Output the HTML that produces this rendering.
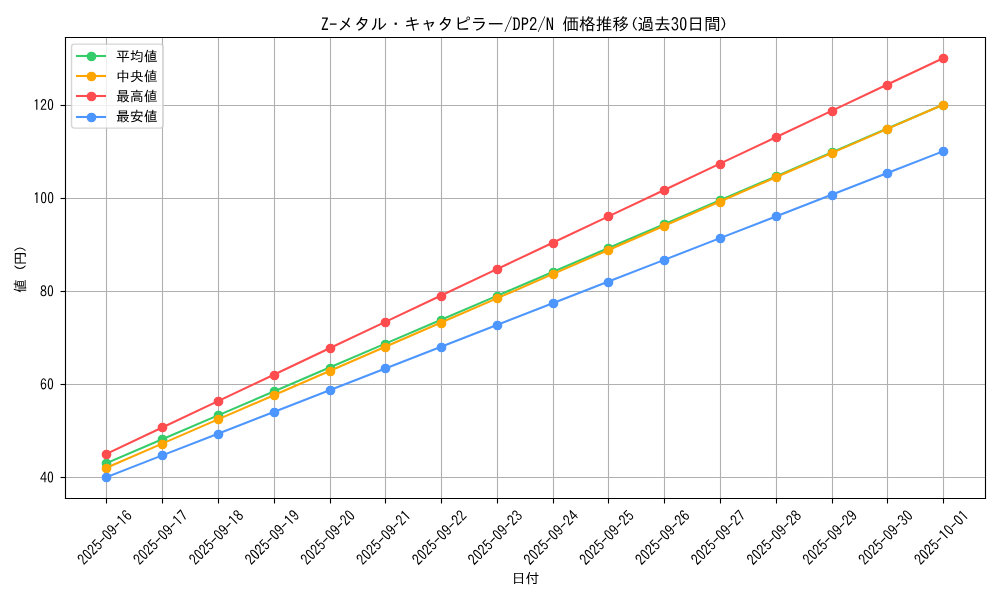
<!DOCTYPE html>
<html><head><meta charset="utf-8"><title>chart</title>
<style>html,body{margin:0;padding:0;background:#fff;width:1000px;height:600px;overflow:hidden;font-family:"Liberation Sans",sans-serif}svg{display:block}</style>
</head><body>
<svg width="1000" height="600" viewBox="0 0 720 432">
<defs>
<style type="text/css">*{stroke-linejoin: round; stroke-linecap: butt}</style>
</defs>
<g id="figure_1">
<g id="patch_1">
<path d="M 0 432
L 720 432
L 720 0
L 0 0
z
" style="fill: #ffffff"/>
</g>
<g id="axes_1">
<g id="patch_2">
<path d="M 46.512 358.6032
L 709.2 358.6032
L 709.2 26.7696
L 46.512 26.7696
z
" style="fill: #ffffff"/>
</g>
<g id="matplotlib.axis_1">
<g id="xtick_1">
<g id="line2d_1">
<path d="M 76.6800 358.9200 L 76.6800 27.0000" clip-path="url(#p1adb4844d3)" style="fill: none; stroke: #b0b0b0; stroke-width: 0.8; stroke-linecap: square"/>
</g>
<g id="line2d_2">
<defs>
<path id="m1504cfccaf" d="M 0 0 L 0 3.6" style="stroke: #000000; stroke-width: 0.8"/>
</defs>
<g>
<use href="#m1504cfccaf" x="76.6800" y="358.9200" style="stroke: #000000; stroke-width: 0.8"/>
</g>
</g>
<g id="text_1" transform="translate(-1.3680 0.6480)">
<g transform="translate(61.551594 406.45983) rotate(-45) scale(0.1 -0.1)">
<defs>
<path id="IPAGothic-32" d="M 2900 325
L 250 325
Q 441 1553 1528 2453
Q 1963 2806 2116 3034
Q 2316 3319 2316 3706
Q 2316 4022 2175 4219
Q 1994 4494 1631 4494
Q 894 4494 825 3406
L 322 3406
Q 359 4056 628 4428
Q 981 4928 1644 4928
Q 2106 4928 2425 4659
Q 2828 4313 2828 3713
Q 2828 2875 1881 2156
Q 1072 1541 909 800
L 2900 800
L 2900 325
z
" transform="matrix(0.015625 0 0 0.016911 0 -5.4961)"/>
<path id="IPAGothic-30" d="M 1600 4934 Q 2844 4934 2844 2566 Q 2844 197 1600 197 Q 359 197 359 2566 Q 359 4934 1600 4934 z M 1600 4494 Q 884 4494 884 2566 Q 884 638 1600 638 Q 2319 638 2319 2566 Q 2319 4494 1600 4494 z" transform="matrix(0.015625 0 0 0.016911 0 -5.4961)"/>
<path id="IPAGothic-35" d="M 566 4806
L 2691 4806
L 2691 4359
L 1013 4359
L 944 2888
Q 1259 3250 1738 3250
Q 2250 3250 2588 2816
Q 2909 2397 2909 1772
Q 2909 1238 2697 844
Q 2341 197 1591 197
Q 538 197 328 1375
L 841 1375
Q 947 644 1588 644
Q 2000 644 2228 997
Q 2422 1294 2422 1766
Q 2422 2184 2259 2456
Q 2059 2822 1653 2822
Q 1156 2822 859 2225
L 456 2309
L 566 4806
z
" transform="matrix(0.015625 0 0 0.016911 0 -5.4961)"/>
<path id="IPAGothic-2d" d="M 313 2663
L 2884 2663
L 2884 2203
L 313 2203
L 313 2663
z
" transform="matrix(0.015625 0 0 0.016911 0 -5.4961)"/>
<path id="IPAGothic-39" d="M 909 1363
Q 988 666 1569 666
Q 2431 666 2422 2500
Q 2063 1972 1519 1972
Q 859 1972 531 2588
Q 347 2947 347 3419
Q 347 4019 672 4459
Q 1022 4934 1569 4934
Q 2888 4934 2888 2706
Q 2888 197 1575 197
Q 975 197 628 716
Q 450 984 384 1363
L 909 1363
z
M 1591 4494
Q 834 4494 834 3431
Q 834 3038 969 2778
Q 1169 2394 1591 2394
Q 1859 2394 2069 2631
Q 2338 2938 2338 3431
Q 2338 3925 2125 4213
Q 1922 4494 1591 4494
z
" transform="matrix(0.015625 0 0 0.016911 0 -5.4961)"/>
<path id="IPAGothic-31" d="M 1428 325
L 1428 4153
Q 1188 3991 756 3809
L 756 4325
Q 1256 4509 1563 4806
L 1953 4806
L 1953 325
L 1428 325
z
" transform="matrix(0.015625 0 0 0.016911 0 -5.4961)"/>
<path id="IPAGothic-36" d="M 2322 3809
Q 2225 4488 1713 4488
Q 1269 4488 1028 3950
Q 803 3447 794 2588
Q 1159 3119 1725 3119
Q 2194 3119 2519 2772
Q 2903 2369 2903 1709
Q 2903 1159 2641 750
Q 2284 200 1638 200
Q 1050 200 697 738
Q 319 1328 319 2375
Q 319 3488 650 4172
Q 1028 4934 1706 4934
Q 2634 4934 2847 3809
L 2322 3809
z
M 1644 2703
Q 1272 2703 1047 2363
Q 875 2094 875 1691
Q 875 1328 997 1075
Q 1209 641 1650 641
Q 2003 641 2219 959
Q 2409 1241 2409 1697
Q 2409 2113 2244 2375
Q 2041 2703 1644 2703
z
" transform="matrix(0.015625 0 0 0.016911 0 -5.4961)"/>
</defs>
<use href="#IPAGothic-32"/>
<use href="#IPAGothic-30" transform="translate(50 0)"/>
<use href="#IPAGothic-32" transform="translate(100 0)"/>
<use href="#IPAGothic-35" transform="translate(150 0)"/>
<use href="#IPAGothic-2d" transform="translate(200 0)"/>
<use href="#IPAGothic-30" transform="translate(250 0)"/>
<use href="#IPAGothic-39" transform="translate(300 0)"/>
<use href="#IPAGothic-2d" transform="translate(350 0)"/>
<use href="#IPAGothic-31" transform="translate(400 0)"/>
<use href="#IPAGothic-36" transform="translate(450 0)"/>
</g>
</g>
</g>
<g id="xtick_2">
<g id="line2d_3">
<path d="M 117.0000 358.9200 L 117.0000 27.0000" clip-path="url(#p1adb4844d3)" style="fill: none; stroke: #b0b0b0; stroke-width: 0.8; stroke-linecap: square"/>
</g>
<g id="line2d_4">
<g>
<use href="#m1504cfccaf" x="117.0000" y="358.9200" style="stroke: #000000; stroke-width: 0.8"/>
</g>
</g>
<g id="text_2" transform="translate(-1.3680 0.6480)">
<g transform="translate(101.714503 406.45983) rotate(-45) scale(0.1 -0.1)">
<defs>
<path id="IPAGothic-37" d="M 319 4806
L 2878 4806
L 2878 4441
Q 1978 2213 1528 325
L 947 325
Q 1434 2050 2328 4319
L 319 4319
L 319 4806
z
" transform="matrix(0.015625 0 0 0.016911 0 -5.4961)"/>
</defs>
<use href="#IPAGothic-32"/>
<use href="#IPAGothic-30" transform="translate(50 0)"/>
<use href="#IPAGothic-32" transform="translate(100 0)"/>
<use href="#IPAGothic-35" transform="translate(150 0)"/>
<use href="#IPAGothic-2d" transform="translate(200 0)"/>
<use href="#IPAGothic-30" transform="translate(250 0)"/>
<use href="#IPAGothic-39" transform="translate(300 0)"/>
<use href="#IPAGothic-2d" transform="translate(350 0)"/>
<use href="#IPAGothic-31" transform="translate(400 0)"/>
<use href="#IPAGothic-37" transform="translate(450 0)"/>
</g>
</g>
</g>
<g id="xtick_3">
<g id="line2d_5">
<path d="M 157.3200 358.9200 L 157.3200 27.0000" clip-path="url(#p1adb4844d3)" style="fill: none; stroke: #b0b0b0; stroke-width: 0.8; stroke-linecap: square"/>
</g>
<g id="line2d_6">
<g>
<use href="#m1504cfccaf" x="157.3200" y="358.9200" style="stroke: #000000; stroke-width: 0.8"/>
</g>
</g>
<g id="text_3" transform="translate(-1.3680 0.6480)">
<g transform="translate(141.877412 406.45983) rotate(-45) scale(0.1 -0.1)">
<defs>
<path id="IPAGothic-38" d="M 1050 2741
Q 403 3056 403 3750
Q 403 4084 563 4359
Q 900 4934 1600 4934
Q 1950 4934 2253 4750
Q 2797 4416 2797 3750
Q 2797 3056 2150 2741
Q 2978 2422 2978 1541
Q 2978 1038 2697 678
Q 2322 197 1600 197
Q 988 197 616 550
Q 225 922 225 1541
Q 225 2422 1050 2741
z
M 1600 4525
Q 1278 4525 1075 4294
Q 891 4078 891 3756
Q 891 3544 969 3372
Q 1159 2956 1606 2956
Q 1863 2956 2041 3116
Q 2309 3347 2309 3756
Q 2309 4156 2041 4378
Q 1856 4525 1600 4525
z
M 1594 2497
Q 1178 2497 931 2191
Q 725 1925 725 1541
Q 725 1172 925 925
Q 1172 619 1600 619
Q 2031 619 2281 925
Q 2478 1172 2478 1541
Q 2478 2022 2184 2278
Q 1947 2497 1594 2497
z
" transform="matrix(0.015625 0 0 0.016911 0 -5.4961)"/>
</defs>
<use href="#IPAGothic-32"/>
<use href="#IPAGothic-30" transform="translate(50 0)"/>
<use href="#IPAGothic-32" transform="translate(100 0)"/>
<use href="#IPAGothic-35" transform="translate(150 0)"/>
<use href="#IPAGothic-2d" transform="translate(200 0)"/>
<use href="#IPAGothic-30" transform="translate(250 0)"/>
<use href="#IPAGothic-39" transform="translate(300 0)"/>
<use href="#IPAGothic-2d" transform="translate(350 0)"/>
<use href="#IPAGothic-31" transform="translate(400 0)"/>
<use href="#IPAGothic-38" transform="translate(450 0)"/>
</g>
</g>
</g>
<g id="xtick_4">
<g id="line2d_7">
<path d="M 197.6400 358.9200 L 197.6400 27.0000" clip-path="url(#p1adb4844d3)" style="fill: none; stroke: #b0b0b0; stroke-width: 0.8; stroke-linecap: square"/>
</g>
<g id="line2d_8">
<g>
<use href="#m1504cfccaf" x="197.6400" y="358.9200" style="stroke: #000000; stroke-width: 0.8"/>
</g>
</g>
<g id="text_4" transform="translate(-1.3680 0.6480)">
<g transform="translate(182.072141 406.39619) rotate(-45) scale(0.1 -0.1)">
<use href="#IPAGothic-32"/>
<use href="#IPAGothic-30" transform="translate(50 0)"/>
<use href="#IPAGothic-32" transform="translate(100 0)"/>
<use href="#IPAGothic-35" transform="translate(150 0)"/>
<use href="#IPAGothic-2d" transform="translate(200 0)"/>
<use href="#IPAGothic-30" transform="translate(250 0)"/>
<use href="#IPAGothic-39" transform="translate(300 0)"/>
<use href="#IPAGothic-2d" transform="translate(350 0)"/>
<use href="#IPAGothic-31" transform="translate(400 0)"/>
<use href="#IPAGothic-39" transform="translate(450 0)"/>
</g>
</g>
</g>
<g id="xtick_5">
<g id="line2d_9">
<path d="M 237.9600 358.9200 L 237.9600 27.0000" clip-path="url(#p1adb4844d3)" style="fill: none; stroke: #b0b0b0; stroke-width: 0.8; stroke-linecap: square"/>
</g>
<g id="line2d_10">
<g>
<use href="#m1504cfccaf" x="237.9600" y="358.9200" style="stroke: #000000; stroke-width: 0.8"/>
</g>
</g>
<g id="text_5" transform="translate(-1.3680 0.6480)">
<g transform="translate(222.203231 406.45983) rotate(-45) scale(0.1 -0.1)">
<use href="#IPAGothic-32"/>
<use href="#IPAGothic-30" transform="translate(50 0)"/>
<use href="#IPAGothic-32" transform="translate(100 0)"/>
<use href="#IPAGothic-35" transform="translate(150 0)"/>
<use href="#IPAGothic-2d" transform="translate(200 0)"/>
<use href="#IPAGothic-30" transform="translate(250 0)"/>
<use href="#IPAGothic-39" transform="translate(300 0)"/>
<use href="#IPAGothic-2d" transform="translate(350 0)"/>
<use href="#IPAGothic-32" transform="translate(400 0)"/>
<use href="#IPAGothic-30" transform="translate(450 0)"/>
</g>
</g>
</g>
<g id="xtick_6">
<g id="line2d_11">
<path d="M 277.5600 358.9200 L 277.5600 27.0000" clip-path="url(#p1adb4844d3)" style="fill: none; stroke: #b0b0b0; stroke-width: 0.8; stroke-linecap: square"/>
</g>
<g id="line2d_12">
<g>
<use href="#m1504cfccaf" x="277.5600" y="358.9200" style="stroke: #000000; stroke-width: 0.8"/>
</g>
</g>
<g id="text_6" transform="translate(-1.3680 0.6480)">
<g transform="translate(262.36614 406.45983) rotate(-45) scale(0.1 -0.1)">
<use href="#IPAGothic-32"/>
<use href="#IPAGothic-30" transform="translate(50 0)"/>
<use href="#IPAGothic-32" transform="translate(100 0)"/>
<use href="#IPAGothic-35" transform="translate(150 0)"/>
<use href="#IPAGothic-2d" transform="translate(200 0)"/>
<use href="#IPAGothic-30" transform="translate(250 0)"/>
<use href="#IPAGothic-39" transform="translate(300 0)"/>
<use href="#IPAGothic-2d" transform="translate(350 0)"/>
<use href="#IPAGothic-32" transform="translate(400 0)"/>
<use href="#IPAGothic-31" transform="translate(450 0)"/>
</g>
</g>
</g>
<g id="xtick_7">
<g id="line2d_13">
<path d="M 317.8800 358.9200 L 317.8800 27.0000" clip-path="url(#p1adb4844d3)" style="fill: none; stroke: #b0b0b0; stroke-width: 0.8; stroke-linecap: square"/>
</g>
<g id="line2d_14">
<g>
<use href="#m1504cfccaf" x="317.8800" y="358.9200" style="stroke: #000000; stroke-width: 0.8"/>
</g>
</g>
<g id="text_7" transform="translate(-1.3680 0.6480)">
<g transform="translate(302.497229 406.523469) rotate(-45) scale(0.1 -0.1)">
<use href="#IPAGothic-32"/>
<use href="#IPAGothic-30" transform="translate(50 0)"/>
<use href="#IPAGothic-32" transform="translate(100 0)"/>
<use href="#IPAGothic-35" transform="translate(150 0)"/>
<use href="#IPAGothic-2d" transform="translate(200 0)"/>
<use href="#IPAGothic-30" transform="translate(250 0)"/>
<use href="#IPAGothic-39" transform="translate(300 0)"/>
<use href="#IPAGothic-2d" transform="translate(350 0)"/>
<use href="#IPAGothic-32" transform="translate(400 0)"/>
<use href="#IPAGothic-32" transform="translate(450 0)"/>
</g>
</g>
</g>
<g id="xtick_8">
<g id="line2d_15">
<path d="M 358.2000 358.9200 L 358.2000 27.0000" clip-path="url(#p1adb4844d3)" style="fill: none; stroke: #b0b0b0; stroke-width: 0.8; stroke-linecap: square"/>
</g>
<g id="line2d_16">
<g>
<use href="#m1504cfccaf" x="358.2000" y="358.9200" style="stroke: #000000; stroke-width: 0.8"/>
</g>
</g>
<g id="text_8" transform="translate(-1.3680 0.6480)">
<g transform="translate(342.660138 406.523469) rotate(-45) scale(0.1 -0.1)">
<defs>
<path id="IPAGothic-33" d="M 1113 2931
L 1431 2931
Q 1841 2931 1994 3047
Q 2281 3269 2281 3713
Q 2281 4500 1566 4500
Q 972 4500 838 3828
L 331 3828
Q 400 4250 625 4525
Q 969 4934 1566 4934
Q 2066 4934 2391 4647
Q 2775 4309 2775 3731
Q 2775 2953 2078 2713
Q 2919 2388 2919 1528
Q 2919 978 2606 625
Q 2231 197 1575 197
Q 959 197 594 619
Q 325 928 269 1472
L 794 1472
Q 859 638 1575 638
Q 1906 638 2131 825
Q 2413 1066 2413 1528
Q 2413 2522 1431 2522
L 1113 2522
L 1113 2931
z
" transform="matrix(0.015625 0 0 0.016911 0 -5.4961)"/>
</defs>
<use href="#IPAGothic-32"/>
<use href="#IPAGothic-30" transform="translate(50 0)"/>
<use href="#IPAGothic-32" transform="translate(100 0)"/>
<use href="#IPAGothic-35" transform="translate(150 0)"/>
<use href="#IPAGothic-2d" transform="translate(200 0)"/>
<use href="#IPAGothic-30" transform="translate(250 0)"/>
<use href="#IPAGothic-39" transform="translate(300 0)"/>
<use href="#IPAGothic-2d" transform="translate(350 0)"/>
<use href="#IPAGothic-32" transform="translate(400 0)"/>
<use href="#IPAGothic-33" transform="translate(450 0)"/>
</g>
</g>
</g>
<g id="xtick_9">
<g id="line2d_17">
<path d="M 398.5200 358.9200 L 398.5200 27.0000" clip-path="url(#p1adb4844d3)" style="fill: none; stroke: #b0b0b0; stroke-width: 0.8; stroke-linecap: square"/>
</g>
<g id="line2d_18">
<g>
<use href="#m1504cfccaf" x="398.5200" y="358.9200" style="stroke: #000000; stroke-width: 0.8"/>
</g>
</g>
<g id="text_9" transform="translate(-1.3680 0.6480)">
<g transform="translate(382.823047 406.523469) rotate(-45) scale(0.1 -0.1)">
<defs>
<path id="IPAGothic-34" d="M 1966 4806
L 2509 4806
L 2509 1869
L 3041 1869
L 3041 1434
L 2509 1434
L 2509 325
L 2034 325
L 2034 1434
L 159 1434
L 159 1881
L 1966 4806
z
M 2034 4109
L 641 1869
L 2034 1869
L 2034 4109
z
" transform="matrix(0.015625 0 0 0.016911 0 -5.4961)"/>
</defs>
<use href="#IPAGothic-32"/>
<use href="#IPAGothic-30" transform="translate(50 0)"/>
<use href="#IPAGothic-32" transform="translate(100 0)"/>
<use href="#IPAGothic-35" transform="translate(150 0)"/>
<use href="#IPAGothic-2d" transform="translate(200 0)"/>
<use href="#IPAGothic-30" transform="translate(250 0)"/>
<use href="#IPAGothic-39" transform="translate(300 0)"/>
<use href="#IPAGothic-2d" transform="translate(350 0)"/>
<use href="#IPAGothic-32" transform="translate(400 0)"/>
<use href="#IPAGothic-34" transform="translate(450 0)"/>
</g>
</g>
</g>
<g id="xtick_10">
<g id="line2d_19">
<path d="M 438.1200 358.9200 L 438.1200 27.0000" clip-path="url(#p1adb4844d3)" style="fill: none; stroke: #b0b0b0; stroke-width: 0.8; stroke-linecap: square"/>
</g>
<g id="line2d_20">
<g>
<use href="#m1504cfccaf" x="438.1200" y="358.9200" style="stroke: #000000; stroke-width: 0.8"/>
</g>
</g>
<g id="text_10" transform="translate(-1.3680 0.6480)">
<g transform="translate(422.985956 406.523469) rotate(-45) scale(0.1 -0.1)">
<use href="#IPAGothic-32"/>
<use href="#IPAGothic-30" transform="translate(50 0)"/>
<use href="#IPAGothic-32" transform="translate(100 0)"/>
<use href="#IPAGothic-35" transform="translate(150 0)"/>
<use href="#IPAGothic-2d" transform="translate(200 0)"/>
<use href="#IPAGothic-30" transform="translate(250 0)"/>
<use href="#IPAGothic-39" transform="translate(300 0)"/>
<use href="#IPAGothic-2d" transform="translate(350 0)"/>
<use href="#IPAGothic-32" transform="translate(400 0)"/>
<use href="#IPAGothic-35" transform="translate(450 0)"/>
</g>
</g>
</g>
<g id="xtick_11">
<g id="line2d_21">
<path d="M 478.4400 358.9200 L 478.4400 27.0000" clip-path="url(#p1adb4844d3)" style="fill: none; stroke: #b0b0b0; stroke-width: 0.8; stroke-linecap: square"/>
</g>
<g id="line2d_22">
<g>
<use href="#m1504cfccaf" x="478.4400" y="358.9200" style="stroke: #000000; stroke-width: 0.8"/>
</g>
</g>
<g id="text_11" transform="translate(-1.3680 0.6480)">
<g transform="translate(463.148865 406.523469) rotate(-45) scale(0.1 -0.1)">
<use href="#IPAGothic-32"/>
<use href="#IPAGothic-30" transform="translate(50 0)"/>
<use href="#IPAGothic-32" transform="translate(100 0)"/>
<use href="#IPAGothic-35" transform="translate(150 0)"/>
<use href="#IPAGothic-2d" transform="translate(200 0)"/>
<use href="#IPAGothic-30" transform="translate(250 0)"/>
<use href="#IPAGothic-39" transform="translate(300 0)"/>
<use href="#IPAGothic-2d" transform="translate(350 0)"/>
<use href="#IPAGothic-32" transform="translate(400 0)"/>
<use href="#IPAGothic-36" transform="translate(450 0)"/>
</g>
</g>
</g>
<g id="xtick_12">
<g id="line2d_23">
<path d="M 518.7600 358.9200 L 518.7600 27.0000" clip-path="url(#p1adb4844d3)" style="fill: none; stroke: #b0b0b0; stroke-width: 0.8; stroke-linecap: square"/>
</g>
<g id="line2d_24">
<g>
<use href="#m1504cfccaf" x="518.7600" y="358.9200" style="stroke: #000000; stroke-width: 0.8"/>
</g>
</g>
<g id="text_12" transform="translate(-1.3680 0.6480)">
<g transform="translate(503.311774 406.523469) rotate(-45) scale(0.1 -0.1)">
<use href="#IPAGothic-32"/>
<use href="#IPAGothic-30" transform="translate(50 0)"/>
<use href="#IPAGothic-32" transform="translate(100 0)"/>
<use href="#IPAGothic-35" transform="translate(150 0)"/>
<use href="#IPAGothic-2d" transform="translate(200 0)"/>
<use href="#IPAGothic-30" transform="translate(250 0)"/>
<use href="#IPAGothic-39" transform="translate(300 0)"/>
<use href="#IPAGothic-2d" transform="translate(350 0)"/>
<use href="#IPAGothic-32" transform="translate(400 0)"/>
<use href="#IPAGothic-37" transform="translate(450 0)"/>
</g>
</g>
</g>
<g id="xtick_13">
<g id="line2d_25">
<path d="M 559.0800 358.9200 L 559.0800 27.0000" clip-path="url(#p1adb4844d3)" style="fill: none; stroke: #b0b0b0; stroke-width: 0.8; stroke-linecap: square"/>
</g>
<g id="line2d_26">
<g>
<use href="#m1504cfccaf" x="559.0800" y="358.9200" style="stroke: #000000; stroke-width: 0.8"/>
</g>
</g>
<g id="text_13" transform="translate(-1.3680 0.6480)">
<g transform="translate(543.474683 406.523469) rotate(-45) scale(0.1 -0.1)">
<use href="#IPAGothic-32"/>
<use href="#IPAGothic-30" transform="translate(50 0)"/>
<use href="#IPAGothic-32" transform="translate(100 0)"/>
<use href="#IPAGothic-35" transform="translate(150 0)"/>
<use href="#IPAGothic-2d" transform="translate(200 0)"/>
<use href="#IPAGothic-30" transform="translate(250 0)"/>
<use href="#IPAGothic-39" transform="translate(300 0)"/>
<use href="#IPAGothic-2d" transform="translate(350 0)"/>
<use href="#IPAGothic-32" transform="translate(400 0)"/>
<use href="#IPAGothic-38" transform="translate(450 0)"/>
</g>
</g>
</g>
<g id="xtick_14">
<g id="line2d_27">
<path d="M 599.4000 358.9200 L 599.4000 27.0000" clip-path="url(#p1adb4844d3)" style="fill: none; stroke: #b0b0b0; stroke-width: 0.8; stroke-linecap: square"/>
</g>
<g id="line2d_28">
<g>
<use href="#m1504cfccaf" x="599.4000" y="358.9200" style="stroke: #000000; stroke-width: 0.8"/>
</g>
</g>
<g id="text_14" transform="translate(-1.3680 0.6480)">
<g transform="translate(583.669412 406.45983) rotate(-45) scale(0.1 -0.1)">
<use href="#IPAGothic-32"/>
<use href="#IPAGothic-30" transform="translate(50 0)"/>
<use href="#IPAGothic-32" transform="translate(100 0)"/>
<use href="#IPAGothic-35" transform="translate(150 0)"/>
<use href="#IPAGothic-2d" transform="translate(200 0)"/>
<use href="#IPAGothic-30" transform="translate(250 0)"/>
<use href="#IPAGothic-39" transform="translate(300 0)"/>
<use href="#IPAGothic-2d" transform="translate(350 0)"/>
<use href="#IPAGothic-32" transform="translate(400 0)"/>
<use href="#IPAGothic-39" transform="translate(450 0)"/>
</g>
</g>
</g>
<g id="xtick_15">
<g id="line2d_29">
<path d="M 639.0000 358.9200 L 639.0000 27.0000" clip-path="url(#p1adb4844d3)" style="fill: none; stroke: #b0b0b0; stroke-width: 0.8; stroke-linecap: square"/>
</g>
<g id="line2d_30">
<g>
<use href="#m1504cfccaf" x="639.0000" y="358.9200" style="stroke: #000000; stroke-width: 0.8"/>
</g>
</g>
<g id="text_15" transform="translate(-1.3680 0.6480)">
<g transform="translate(623.832321 406.45983) rotate(-45) scale(0.1 -0.1)">
<use href="#IPAGothic-32"/>
<use href="#IPAGothic-30" transform="translate(50 0)"/>
<use href="#IPAGothic-32" transform="translate(100 0)"/>
<use href="#IPAGothic-35" transform="translate(150 0)"/>
<use href="#IPAGothic-2d" transform="translate(200 0)"/>
<use href="#IPAGothic-30" transform="translate(250 0)"/>
<use href="#IPAGothic-39" transform="translate(300 0)"/>
<use href="#IPAGothic-2d" transform="translate(350 0)"/>
<use href="#IPAGothic-33" transform="translate(400 0)"/>
<use href="#IPAGothic-30" transform="translate(450 0)"/>
</g>
</g>
</g>
<g id="xtick_16">
<g id="line2d_31">
<path d="M 679.3200 358.9200 L 679.3200 27.0000" clip-path="url(#p1adb4844d3)" style="fill: none; stroke: #b0b0b0; stroke-width: 0.8; stroke-linecap: square"/>
</g>
<g id="line2d_32">
<g>
<use href="#m1504cfccaf" x="679.3200" y="358.9200" style="stroke: #000000; stroke-width: 0.8"/>
</g>
</g>
<g id="text_16" transform="translate(-1.3680 0.6480)">
<g transform="translate(664.02705 406.39619) rotate(-45) scale(0.1 -0.1)">
<use href="#IPAGothic-32"/>
<use href="#IPAGothic-30" transform="translate(50 0)"/>
<use href="#IPAGothic-32" transform="translate(100 0)"/>
<use href="#IPAGothic-35" transform="translate(150 0)"/>
<use href="#IPAGothic-2d" transform="translate(200 0)"/>
<use href="#IPAGothic-31" transform="translate(250 0)"/>
<use href="#IPAGothic-30" transform="translate(300 0)"/>
<use href="#IPAGothic-2d" transform="translate(350 0)"/>
<use href="#IPAGothic-30" transform="translate(400 0)"/>
<use href="#IPAGothic-31" transform="translate(450 0)"/>
</g>
</g>
</g>
<g id="text_17" transform="translate(0.5040 1.0080)">
<g transform="translate(367.866 419.008836) scale(0.1 -0.1)">
<defs>
<path id="IPAGothic-65e5" d="M 5231 4800
L 5231 -288
L 4744 -288
L 4744 128
L 1647 128
L 1647 -288
L 1159 -288
L 1159 4800
L 5231 4800
z
M 1647 4372
L 1647 2731
L 4744 2731
L 4744 4372
L 1647 4372
z
M 1647 2297
L 1647 556
L 4744 556
L 4744 2297
L 1647 2297
z
" transform="scale(0.015625)"/>
<path id="IPAGothic-4ed8" d="M 1681 3772
L 1681 -447
L 1213 -447
L 1213 2825
Q 913 2316 578 1863
L 316 2253
Q 1241 3463 1653 5184
L 2128 5069
Q 1928 4378 1719 3859
L 1681 3772
z
M 5084 3816
L 5994 3816
L 5994 3388
L 5109 3388
L 5109 213
Q 5109 -78 5006 -191
Q 4888 -319 4525 -319
Q 4031 -319 3516 -266
L 3431 238
Q 3978 141 4403 141
Q 4634 141 4634 384
L 4634 3388
L 2031 3388
L 2031 3816
L 4609 3816
L 4609 5153
L 5084 5153
L 5084 3816
z
M 3431 1172
Q 3034 1994 2547 2566
L 2931 2822
Q 3428 2231 3853 1472
L 3431 1172
z
" transform="scale(0.015625)"/>
</defs>
<use href="#IPAGothic-65e5"/>
<use href="#IPAGothic-4ed8" transform="translate(100 0)"/>
</g>
</g>
</g>
<g id="matplotlib.axis_2">
<g id="ytick_1">
<g id="line2d_33">
<path d="M 47.1600 343.8000 L 709.5600 343.8000" clip-path="url(#p1adb4844d3)" style="fill: none; stroke: #b0b0b0; stroke-width: 0.8; stroke-linecap: square"/>
</g>
<g id="line2d_34">
<defs>
<path id="m5d545ce8f8" d="M 0 0 L -3.6 0" style="stroke: #000000; stroke-width: 0.8"/>
</defs>
<g>
<use href="#m5d545ce8f8" x="47.1600" y="343.8000" style="stroke: #000000; stroke-width: 0.8"/>
</g>
</g>
<g id="text_18" transform="translate(-0.7200 -0.2880)">
<g transform="translate(29.522 347.479855) scale(0.1 -0.1)">
<use href="#IPAGothic-34"/>
<use href="#IPAGothic-30" transform="translate(50 0)"/>
</g>
</g>
</g>
<g id="ytick_2">
<g id="line2d_35">
<path d="M 47.1600 276.8400 L 709.5600 276.8400" clip-path="url(#p1adb4844d3)" style="fill: none; stroke: #b0b0b0; stroke-width: 0.8; stroke-linecap: square"/>
</g>
<g id="line2d_36">
<g>
<use href="#m5d545ce8f8" x="47.1600" y="276.8400" style="stroke: #000000; stroke-width: 0.8"/>
</g>
</g>
<g id="text_19" transform="translate(-0.7200 -0.2880)">
<g transform="translate(29.522 280.442764) scale(0.1 -0.1)">
<use href="#IPAGothic-36"/>
<use href="#IPAGothic-30" transform="translate(50 0)"/>
</g>
</g>
</g>
<g id="ytick_3">
<g id="line2d_37">
<path d="M 47.1600 209.8800 L 709.5600 209.8800" clip-path="url(#p1adb4844d3)" style="fill: none; stroke: #b0b0b0; stroke-width: 0.8; stroke-linecap: square"/>
</g>
<g id="line2d_38">
<g>
<use href="#m5d545ce8f8" x="47.1600" y="209.8800" style="stroke: #000000; stroke-width: 0.8"/>
</g>
</g>
<g id="text_20" transform="translate(-0.7200 -0.2880)">
<g transform="translate(29.522 213.405673) scale(0.1 -0.1)">
<use href="#IPAGothic-38"/>
<use href="#IPAGothic-30" transform="translate(50 0)"/>
</g>
</g>
</g>
<g id="ytick_4">
<g id="line2d_39">
<path d="M 47.1600 142.9200 L 709.5600 142.9200" clip-path="url(#p1adb4844d3)" style="fill: none; stroke: #b0b0b0; stroke-width: 0.8; stroke-linecap: square"/>
</g>
<g id="line2d_40">
<g>
<use href="#m5d545ce8f8" x="47.1600" y="142.9200" style="stroke: #000000; stroke-width: 0.8"/>
</g>
</g>
<g id="text_21" transform="translate(-0.7200 -0.2880)">
<g transform="translate(24.662 146.368582) scale(0.1 -0.1)">
<use href="#IPAGothic-31"/>
<use href="#IPAGothic-30" transform="translate(50 0)"/>
<use href="#IPAGothic-30" transform="translate(100 0)"/>
</g>
</g>
</g>
<g id="ytick_5">
<g id="line2d_41">
<path d="M 47.1600 75.9600 L 709.5600 75.9600" clip-path="url(#p1adb4844d3)" style="fill: none; stroke: #b0b0b0; stroke-width: 0.8; stroke-linecap: square"/>
</g>
<g id="line2d_42">
<g>
<use href="#m5d545ce8f8" x="47.1600" y="75.9600" style="stroke: #000000; stroke-width: 0.8"/>
</g>
</g>
<g id="text_22" transform="translate(-0.7200 -0.2880)">
<g transform="translate(24.572 79.331491) scale(0.1 -0.1)">
<use href="#IPAGothic-31"/>
<use href="#IPAGothic-32" transform="translate(50 0)"/>
<use href="#IPAGothic-30" transform="translate(100 0)"/>
</g>
</g>
</g>
<g id="text_23" transform="translate(-1.6560 0.7200)">
<g transform="translate(19.852 210.2364) rotate(-90) scale(0.1 -0.1)">
<defs>
<path id="IPAGothic-5024" d="M 4172 3675
L 5453 3675
L 5453 684
L 3019 684
L 3019 3675
L 3747 3675
Q 3788 3884 3825 4153
L 2144 4153
L 2144 4544
L 3881 4544
Q 3922 4841 3966 5325
L 4434 5272
L 4391 4953
Q 4331 4578 4331 4544
L 5863 4544
L 5863 4153
L 4269 4153
Q 4200 3781 4172 3675
z
M 5038 3316
L 3434 3316
L 3434 2803
L 5038 2803
L 5038 3316
z
M 3434 2450
L 3434 1941
L 5038 1941
L 5038 2450
L 3434 2450
z
M 3434 1588
L 3434 1044
L 5038 1044
L 5038 1588
L 3434 1588
z
M 1509 3669
L 1509 -447
L 1069 -447
L 1069 2728
Q 856 2338 531 1875
L 288 2266
Q 1163 3534 1541 5325
L 1975 5225
Q 1791 4378 1509 3669
z
M 2488 244
L 6034 244
L 6034 -153
L 2488 -153
L 2488 -447
L 2059 -447
L 2059 3213
L 2488 3213
L 2488 244
z
" transform="scale(0.015625)"/>
<path id="IPAGothic-20" transform="scale(0.015625)"/>
<path id="IPAGothic-28" d="M 2219 -434
Q 997 769 997 2441
Q 997 4097 2219 5300
L 2719 5300
Q 1478 4078 1478 2425
Q 1478 788 2719 -434
L 2219 -434
z
" transform="matrix(0.015625 0 0 0.013750 6.5625 4.5619)"/>
<path id="IPAGothic-5186" d="M 5594 4806
L 5594 319
Q 5594 34 5491 -97
Q 5366 -269 4959 -269
Q 4469 -269 3897 -225
L 3809 275
Q 4384 206 4844 206
Q 5106 206 5106 434
L 5106 2119
L 1281 2119
L 1281 -359
L 794 -359
L 794 4806
L 5594 4806
z
M 1281 4366
L 1281 2547
L 2944 2547
L 2944 4366
L 1281 4366
z
M 5106 2547
L 5106 4366
L 3413 4366
L 3413 2547
L 5106 2547
z
" transform="scale(0.015625)"/>
<path id="IPAGothic-29" d="M 481 -434
Q 1722 788 1722 2434
Q 1722 4069 481 5300
L 981 5300
Q 2203 4097 2203 2434
Q 2203 769 981 -434
L 481 -434
z
" transform="matrix(0.015625 0 0 0.013750 -6.5625 4.5619)"/>
</defs>
<use href="#IPAGothic-5024"/>
<use href="#IPAGothic-20" transform="translate(100 0)"/>
<use href="#IPAGothic-28" transform="translate(150 0)"/>
<use href="#IPAGothic-5186" transform="translate(200 0)"/>
<use href="#IPAGothic-29" transform="translate(300 0)"/>
</g>
</g>
</g>
<g id="line2d_43">
<path d="M 76.634182 333.464291
L 116.797091 316.258104
L 156.96 299.051918
L 197.122909 281.845731
L 237.285818 264.639544
L 277.448727 247.433358
L 317.611636 230.227171
L 357.774545 213.020984
L 397.937455 195.814798
L 438.100364 178.608611
L 478.263273 161.402424
L 518.426182 144.196238
L 558.589091 126.990051
L 598.752 109.783864
L 638.914909 92.577678
L 679.077818 75.371491
" clip-path="url(#p1adb4844d3)" style="fill: none; stroke: #36cc6a; stroke-width: 1.5; stroke-linecap: square"/>
<defs>
<path id="m4534e8f373" d="M 0 3
C 0.795609 3 1.55874 2.683901 2.12132 2.12132
C 2.683901 1.55874 3 0.795609 3 0
C 3 -0.795609 2.683901 -1.55874 2.12132 -2.12132
C 1.55874 -2.683901 0.795609 -3 0 -3
C -0.795609 -3 -1.55874 -2.683901 -2.12132 -2.12132
C -2.683901 -1.55874 -3 -0.795609 -3 0
C -3 0.795609 -2.683901 1.55874 -2.12132 2.12132
C -1.55874 2.683901 -0.795609 3 0 3
z
" style="stroke: #36cc6a"/>
</defs>
<g clip-path="url(#p1adb4844d3)">
<use href="#m4534e8f373" x="76.6800" y="333.7200" style="fill: #36cc6a; stroke: #36cc6a"/>
<use href="#m4534e8f373" x="117.0000" y="316.4400" style="fill: #36cc6a; stroke: #36cc6a"/>
<use href="#m4534e8f373" x="157.3200" y="299.1600" style="fill: #36cc6a; stroke: #36cc6a"/>
<use href="#m4534e8f373" x="197.6400" y="281.8800" style="fill: #36cc6a; stroke: #36cc6a"/>
<use href="#m4534e8f373" x="237.9600" y="265.3200" style="fill: #36cc6a; stroke: #36cc6a"/>
<use href="#m4534e8f373" x="277.5600" y="248.0400" style="fill: #36cc6a; stroke: #36cc6a"/>
<use href="#m4534e8f373" x="317.8800" y="230.7600" style="fill: #36cc6a; stroke: #36cc6a"/>
<use href="#m4534e8f373" x="358.2000" y="213.4800" style="fill: #36cc6a; stroke: #36cc6a"/>
<use href="#m4534e8f373" x="398.5200" y="196.2000" style="fill: #36cc6a; stroke: #36cc6a"/>
<use href="#m4534e8f373" x="438.1200" y="178.9200" style="fill: #36cc6a; stroke: #36cc6a"/>
<use href="#m4534e8f373" x="478.4400" y="161.6400" style="fill: #36cc6a; stroke: #36cc6a"/>
<use href="#m4534e8f373" x="518.7600" y="144.3600" style="fill: #36cc6a; stroke: #36cc6a"/>
<use href="#m4534e8f373" x="559.0800" y="127.0800" style="fill: #36cc6a; stroke: #36cc6a"/>
<use href="#m4534e8f373" x="599.4000" y="109.8000" style="fill: #36cc6a; stroke: #36cc6a"/>
<use href="#m4534e8f373" x="639.0000" y="93.2400" style="fill: #36cc6a; stroke: #36cc6a"/>
<use href="#m4534e8f373" x="679.3200" y="75.9600" style="fill: #36cc6a; stroke: #36cc6a"/>
</g>
</g>
<g id="line2d_44">
<path d="M 76.634182 336.816145
L 116.797091 319.386502
L 156.96 301.956858
L 197.122909 284.527215
L 237.285818 267.097571
L 277.448727 249.667927
L 317.611636 232.238284
L 357.774545 214.80864
L 397.937455 197.378996
L 438.100364 179.949353
L 478.263273 162.519709
L 518.426182 145.090065
L 558.589091 127.660422
L 598.752 110.230778
L 638.914909 92.801135
L 679.077818 75.371491
" clip-path="url(#p1adb4844d3)" style="fill: none; stroke: #ffa500; stroke-width: 1.5; stroke-linecap: square"/>
<defs>
<path id="m3cc280db12" d="M 0 3
C 0.795609 3 1.55874 2.683901 2.12132 2.12132
C 2.683901 1.55874 3 0.795609 3 0
C 3 -0.795609 2.683901 -1.55874 2.12132 -2.12132
C 1.55874 -2.683901 0.795609 -3 0 -3
C -0.795609 -3 -1.55874 -2.683901 -2.12132 -2.12132
C -2.683901 -1.55874 -3 -0.795609 -3 0
C -3 0.795609 -2.683901 1.55874 -2.12132 2.12132
C -1.55874 2.683901 -0.795609 3 0 3
z
" style="stroke: #ffa500"/>
</defs>
<g clip-path="url(#p1adb4844d3)">
<use href="#m3cc280db12" x="76.6800" y="337.3200" style="fill: #ffa500; stroke: #ffa500"/>
<use href="#m3cc280db12" x="117.0000" y="320.0400" style="fill: #ffa500; stroke: #ffa500"/>
<use href="#m3cc280db12" x="157.3200" y="302.0400" style="fill: #ffa500; stroke: #ffa500"/>
<use href="#m3cc280db12" x="197.6400" y="284.7600" style="fill: #ffa500; stroke: #ffa500"/>
<use href="#m3cc280db12" x="237.9600" y="267.4800" style="fill: #ffa500; stroke: #ffa500"/>
<use href="#m3cc280db12" x="277.5600" y="250.2000" style="fill: #ffa500; stroke: #ffa500"/>
<use href="#m3cc280db12" x="317.8800" y="232.9200" style="fill: #ffa500; stroke: #ffa500"/>
<use href="#m3cc280db12" x="358.2000" y="214.9200" style="fill: #ffa500; stroke: #ffa500"/>
<use href="#m3cc280db12" x="398.5200" y="197.6400" style="fill: #ffa500; stroke: #ffa500"/>
<use href="#m3cc280db12" x="438.1200" y="180.3600" style="fill: #ffa500; stroke: #ffa500"/>
<use href="#m3cc280db12" x="478.4400" y="163.0800" style="fill: #ffa500; stroke: #ffa500"/>
<use href="#m3cc280db12" x="518.7600" y="145.8000" style="fill: #ffa500; stroke: #ffa500"/>
<use href="#m3cc280db12" x="559.0800" y="127.8000" style="fill: #ffa500; stroke: #ffa500"/>
<use href="#m3cc280db12" x="599.4000" y="110.5200" style="fill: #ffa500; stroke: #ffa500"/>
<use href="#m3cc280db12" x="639.0000" y="93.2400" style="fill: #ffa500; stroke: #ffa500"/>
<use href="#m3cc280db12" x="679.3200" y="75.9600" style="fill: #ffa500; stroke: #ffa500"/>
</g>
</g>
<g id="line2d_45">
<path d="M 76.634182 326.760582
L 116.797091 307.766739
L 156.96 288.772897
L 197.122909 269.779055
L 237.285818 250.785212
L 277.448727 231.79137
L 317.611636 212.797527
L 357.774545 193.803685
L 397.937455 174.809842
L 438.100364 155.816
L 478.263273 136.822158
L 518.426182 117.828315
L 558.589091 98.834473
L 598.752 79.84063
L 638.914909 60.846788
L 679.077818 41.852945
" clip-path="url(#p1adb4844d3)" style="fill: none; stroke: #ff4d4f; stroke-width: 1.5; stroke-linecap: square"/>
<defs>
<path id="m4feea0763a" d="M 0 3
C 0.795609 3 1.55874 2.683901 2.12132 2.12132
C 2.683901 1.55874 3 0.795609 3 0
C 3 -0.795609 2.683901 -1.55874 2.12132 -2.12132
C 1.55874 -2.683901 0.795609 -3 0 -3
C -0.795609 -3 -1.55874 -2.683901 -2.12132 -2.12132
C -2.683901 -1.55874 -3 -0.795609 -3 0
C -3 0.795609 -2.683901 1.55874 -2.12132 2.12132
C -1.55874 2.683901 -0.795609 3 0 3
z
" style="stroke: #ff4d4f"/>
</defs>
<g clip-path="url(#p1adb4844d3)">
<use href="#m4feea0763a" x="76.6800" y="327.2400" style="fill: #ff4d4f; stroke: #ff4d4f"/>
<use href="#m4feea0763a" x="117.0000" y="307.8000" style="fill: #ff4d4f; stroke: #ff4d4f"/>
<use href="#m4feea0763a" x="157.3200" y="289.0800" style="fill: #ff4d4f; stroke: #ff4d4f"/>
<use href="#m4feea0763a" x="197.6400" y="270.3600" style="fill: #ff4d4f; stroke: #ff4d4f"/>
<use href="#m4feea0763a" x="237.9600" y="250.9200" style="fill: #ff4d4f; stroke: #ff4d4f"/>
<use href="#m4feea0763a" x="277.5600" y="232.2000" style="fill: #ff4d4f; stroke: #ff4d4f"/>
<use href="#m4feea0763a" x="317.8800" y="213.4800" style="fill: #ff4d4f; stroke: #ff4d4f"/>
<use href="#m4feea0763a" x="358.2000" y="194.0400" style="fill: #ff4d4f; stroke: #ff4d4f"/>
<use href="#m4feea0763a" x="398.5200" y="175.3200" style="fill: #ff4d4f; stroke: #ff4d4f"/>
<use href="#m4feea0763a" x="438.1200" y="155.8800" style="fill: #ff4d4f; stroke: #ff4d4f"/>
<use href="#m4feea0763a" x="478.4400" y="137.1600" style="fill: #ff4d4f; stroke: #ff4d4f"/>
<use href="#m4feea0763a" x="518.7600" y="118.4400" style="fill: #ff4d4f; stroke: #ff4d4f"/>
<use href="#m4feea0763a" x="559.0800" y="99.0000" style="fill: #ff4d4f; stroke: #ff4d4f"/>
<use href="#m4feea0763a" x="599.4000" y="80.2800" style="fill: #ff4d4f; stroke: #ff4d4f"/>
<use href="#m4feea0763a" x="639.0000" y="61.5600" style="fill: #ff4d4f; stroke: #ff4d4f"/>
<use href="#m4feea0763a" x="679.3200" y="42.1200" style="fill: #ff4d4f; stroke: #ff4d4f"/>
</g>
</g>
<g id="line2d_46">
<path d="M 76.634182 343.519855
L 116.797091 327.877867
L 156.96 312.235879
L 197.122909 296.593891
L 237.285818 280.951903
L 277.448727 265.309915
L 317.611636 249.667927
L 357.774545 234.025939
L 397.937455 218.383952
L 438.100364 202.741964
L 478.263273 187.099976
L 518.426182 171.457988
L 558.589091 155.816
L 598.752 140.174012
L 638.914909 124.532024
L 679.077818 108.890036
" clip-path="url(#p1adb4844d3)" style="fill: none; stroke: #4d96ff; stroke-width: 1.5; stroke-linecap: square"/>
<defs>
<path id="mcde957ec9b" d="M 0 3
C 0.795609 3 1.55874 2.683901 2.12132 2.12132
C 2.683901 1.55874 3 0.795609 3 0
C 3 -0.795609 2.683901 -1.55874 2.12132 -2.12132
C 1.55874 -2.683901 0.795609 -3 0 -3
C -0.795609 -3 -1.55874 -2.683901 -2.12132 -2.12132
C -2.683901 -1.55874 -3 -0.795609 -3 0
C -3 0.795609 -2.683901 1.55874 -2.12132 2.12132
C -1.55874 2.683901 -0.795609 3 0 3
z
" style="stroke: #4d96ff"/>
</defs>
<g clip-path="url(#p1adb4844d3)">
<use href="#mcde957ec9b" x="76.6800" y="343.8000" style="fill: #4d96ff; stroke: #4d96ff"/>
<use href="#mcde957ec9b" x="117.0000" y="327.9600" style="fill: #4d96ff; stroke: #4d96ff"/>
<use href="#mcde957ec9b" x="157.3200" y="312.8400" style="fill: #4d96ff; stroke: #4d96ff"/>
<use href="#mcde957ec9b" x="197.6400" y="297.0000" style="fill: #4d96ff; stroke: #4d96ff"/>
<use href="#mcde957ec9b" x="237.9600" y="281.1600" style="fill: #4d96ff; stroke: #4d96ff"/>
<use href="#mcde957ec9b" x="277.5600" y="265.3200" style="fill: #4d96ff; stroke: #4d96ff"/>
<use href="#mcde957ec9b" x="317.8800" y="250.2000" style="fill: #4d96ff; stroke: #4d96ff"/>
<use href="#mcde957ec9b" x="358.2000" y="234.3600" style="fill: #4d96ff; stroke: #4d96ff"/>
<use href="#mcde957ec9b" x="398.5200" y="218.5200" style="fill: #4d96ff; stroke: #4d96ff"/>
<use href="#mcde957ec9b" x="438.1200" y="203.4000" style="fill: #4d96ff; stroke: #4d96ff"/>
<use href="#mcde957ec9b" x="478.4400" y="187.5600" style="fill: #4d96ff; stroke: #4d96ff"/>
<use href="#mcde957ec9b" x="518.7600" y="171.7200" style="fill: #4d96ff; stroke: #4d96ff"/>
<use href="#mcde957ec9b" x="559.0800" y="155.8800" style="fill: #4d96ff; stroke: #4d96ff"/>
<use href="#mcde957ec9b" x="599.4000" y="140.7600" style="fill: #4d96ff; stroke: #4d96ff"/>
<use href="#mcde957ec9b" x="639.0000" y="124.9200" style="fill: #4d96ff; stroke: #4d96ff"/>
<use href="#mcde957ec9b" x="679.3200" y="109.0800" style="fill: #4d96ff; stroke: #4d96ff"/>
</g>
</g>
<g id="patch_3">
<path d="M 47.1600 358.9200 L 47.1600 27.0000" style="fill: none; stroke: #000000; stroke-width: 0.8; stroke-linejoin: miter; stroke-linecap: square"/>
</g>
<g id="patch_4">
<path d="M 709.5600 358.9200 L 709.5600 27.0000" style="fill: none; stroke: #000000; stroke-width: 0.8; stroke-linejoin: miter; stroke-linecap: square"/>
</g>
<g id="patch_5">
<path d="M 47.1600 358.9200 L 709.5600 358.9200" style="fill: none; stroke: #000000; stroke-width: 0.8; stroke-linejoin: miter; stroke-linecap: square"/>
</g>
<g id="patch_6">
<path d="M 47.1600 27.0000 L 709.5600 27.0000" style="fill: none; stroke: #000000; stroke-width: 0.8; stroke-linejoin: miter; stroke-linecap: square"/>
</g>
<g id="text_24" transform="translate(-0.2880 0.8640)">
<g transform="translate(231.201 20.7696) scale(0.12 -0.12)">
<defs>
<path id="IPAGothic-5a" d="M 488 4806
L 2747 4806
L 2747 4356
L 975 838
L 2816 838
L 2816 325
L 403 325
L 403 825
L 2159 4306
L 488 4306
L 488 4806
z
" transform="matrix(0.015625 0 0 0.016911 0 -5.4961)"/>
<path id="IPAGothic-30e1" d="M 2041 3641
Q 2678 3259 3359 2747
Q 3906 3678 4281 4819
L 4784 4609
Q 4347 3384 3756 2425
Q 4225 2031 4925 1369
L 4544 972
Q 4031 1519 3475 1997
Q 2522 650 1259 -172
L 863 206
Q 2078 931 3013 2216
Q 3041 2244 3091 2328
Q 2456 2844 1700 3263
L 2041 3641
z
" transform="scale(0.015625)"/>
<path id="IPAGothic-30bf" d="M 4850 4263
L 5184 3988
Q 4903 2575 4056 1459
Q 3191 325 1822 -300
L 1466 109
Q 2703 609 3463 1513
L 3481 1538
L 3531 1600
Q 2878 2372 2175 2888
Q 1728 2297 1172 1875
L 825 2234
Q 2166 3219 2694 5031
L 3175 4897
Q 3072 4538 2956 4263
L 4850 4263
z
M 2750 3809
Q 2672 3644 2438 3266
Q 3138 2753 3841 2003
Q 4375 2825 4619 3809
L 2750 3809
z
" transform="scale(0.015625)"/>
<path id="IPAGothic-30eb" d="M 353 331
Q 1313 994 1544 2022
Q 1684 2650 1684 4397
L 2203 4397
L 2203 4153
L 2203 4116
Q 2203 2259 1934 1491
Q 1619 588 744 -38
L 353 331
z
M 3125 4666
L 3650 4666
L 3650 769
Q 4875 1488 5672 2731
L 5997 2278
Q 5075 966 3516 63
L 3125 359
L 3125 4666
z
" transform="scale(0.015625)"/>
<path id="IPAGothic-30fb" d="M 2772 2859
L 3628 2859
L 3628 2003
L 2772 2003
L 2772 2859
z
" transform="scale(0.015625)"/>
<path id="IPAGothic-30ad" d="M 2919 5056
L 3169 3834
L 3534 3897
L 3828 3944
L 4297 4025
L 4591 4078
L 4916 4134
L 5000 3688
L 3253 3397
L 3475 2284
Q 4219 2406 4872 2522
L 5238 2584
L 5634 2656
L 5722 2194
L 3566 1844
L 3969 -147
L 3475 -263
L 3072 1759
L 834 1388
L 744 1856
L 1213 1925
L 1581 1984
L 2197 2081
L 2575 2138
L 2984 2203
L 2759 3322
L 1019 3034
L 941 3488
Q 1163 3516 2056 3653
L 2344 3700
L 2669 3750
L 2428 4959
L 2919 5056
z
" transform="scale(0.015625)"/>
<path id="IPAGothic-30e3" d="M 2559 3903
L 2803 2816
L 4863 3169
L 5191 2894
Q 4672 1875 4103 1203
L 3666 1447
Q 4175 2013 4525 2688
L 2900 2388
L 3450 -116
L 2969 -231
L 2419 2297
L 1172 2069
L 1075 2516
L 2328 2731
L 2094 3809
L 2559 3903
z
" transform="scale(0.015625)"/>
<path id="IPAGothic-30d4" d="M 1375 4806
L 1900 4806
L 1900 2809
Q 3572 3188 4766 3922
L 5150 3506
Q 3663 2716 1900 2328
L 1900 1094
Q 1900 775 2091 700
Q 2288 616 3181 616
Q 4184 616 5413 750
L 5413 238
Q 4275 128 3281 128
Q 1956 128 1663 325
Q 1375 509 1375 997
L 1375 4806
z
M 5466 5209
Q 5756 5209 5978 4978
Q 6163 4775 6163 4506
Q 6163 4300 6047 4128
Q 5838 3803 5450 3803
Q 5281 3803 5131 3888
Q 4753 4091 4753 4513
Q 4753 4869 5053 5081
Q 5241 5209 5466 5209
z
M 5456 4928
Q 5363 4928 5259 4878
Q 5034 4759 5034 4506
Q 5034 4394 5106 4281
Q 5228 4084 5456 4084
Q 5609 4084 5741 4194
Q 5881 4316 5881 4506
Q 5881 4697 5734 4825
Q 5613 4928 5456 4928
z
" transform="scale(0.015625)"/>
<path id="IPAGothic-30e9" d="M 1447 4594
L 4922 4594
L 4922 4119
L 1447 4119
L 1447 4594
z
M 897 3188
L 5172 3188
L 5478 2900
Q 5069 1553 4219 759
Q 3475 66 2306 -297
L 1972 178
Q 4150 669 4834 2713
L 897 2713
L 897 3188
z
" transform="scale(0.015625)"/>
<path id="IPAGothic-30fc" d="M 588 2688
L 5809 2688
L 5809 2175
L 588 2175
L 588 2688
z
" transform="scale(0.015625)"/>
<path id="IPAGothic-2f" d="M 2750 5259
L 3006 5147
L 441 -403
L 184 -288
L 2750 5259
z
" transform="matrix(0.015625 0 0 0.016911 0 -5.4961)"/>
<path id="IPAGothic-44" d="M 172 325
L 172 800
L 538 800
L 538 4331
L 172 4331
L 172 4806
L 1331 4806
Q 2094 4806 2503 4275
Q 2906 3753 2906 2638
Q 2906 1481 2534 941
Q 2113 325 1363 325
L 172 325
z
M 1050 4331
L 1050 800
L 1344 800
Q 2381 800 2381 2638
Q 2381 3550 2084 3963
Q 1822 4331 1306 4331
L 1050 4331
z
" transform="matrix(0.015625 0 0 0.016911 0 -5.4961)"/>
<path id="IPAGothic-50" d="M 447 4806
L 1569 4806
Q 2122 4806 2466 4550
Q 2919 4200 2919 3544
Q 2919 2753 2278 2409
Q 1975 2244 1581 2244
L 959 2244
L 959 325
L 447 325
L 447 4806
z
M 959 4319
L 959 2731
L 1528 2731
Q 2394 2731 2394 3538
Q 2394 4009 2009 4209
Q 1803 4319 1528 4319
L 959 4319
z
" transform="matrix(0.015625 0 0 0.016911 0 -5.4961)"/>
<path id="IPAGothic-4e" d="M 372 4806
L 1031 4806
L 2328 1197
L 2328 4806
L 2816 4806
L 2816 325
L 2213 325
L 884 4013
L 884 325
L 372 325
L 372 4806
z
" transform="matrix(0.015625 0 0 0.016911 0 -5.4961)"/>
<path id="IPAGothic-4fa1" d="M 3144 3397
L 3144 4416
L 1831 4416
L 1831 4825
L 6081 4825
L 6081 4416
L 4713 4416
L 4713 3397
L 5850 3397
L 5850 -384
L 5416 -384
L 5416 0
L 2463 0
L 2463 -384
L 2034 -384
L 2034 3397
L 3144 3397
z
M 3572 3397
L 4281 3397
L 4281 4416
L 3572 4416
L 3572 3397
z
M 3169 3013
L 2463 3013
L 2463 391
L 3169 391
L 3169 3013
z
M 3572 3013
L 3572 391
L 4281 391
L 4281 3013
L 3572 3013
z
M 4684 3013
L 4684 391
L 5416 391
L 5416 3013
L 4684 3013
z
M 1394 3816
L 1394 -447
L 966 -447
L 966 2797
Q 756 2369 478 1972
L 244 2369
Q 950 3472 1375 5313
L 1809 5203
Q 1588 4344 1394 3816
z
" transform="scale(0.015625)"/>
<path id="IPAGothic-683c" d="M 1281 2650
Q 978 1569 500 806
L 231 1269
Q 866 2141 1231 3584
L 366 3584
L 366 3988
L 1281 3988
L 1281 5306
L 1716 5306
L 1716 3988
L 2534 3988
L 2534 3584
L 1716 3584
L 1716 3072
Q 2163 2719 2572 2331
L 2328 1953
Q 2059 2291 1716 2625
L 1716 -447
L 1281 -447
L 1281 2650
z
M 2938 1747
Q 2716 1613 2516 1509
L 2247 1841
Q 3244 2341 3963 3078
Q 3669 3369 3353 3841
Q 3028 3344 2638 2969
L 2356 3281
Q 3213 4131 3538 5300
L 3956 5184
Q 3834 4813 3834 4806
L 5250 4806
L 5478 4606
Q 5016 3650 4531 3091
Q 5238 2509 6131 2144
L 5838 1731
Q 5766 1766 5516 1900
L 5459 1931
L 5459 -447
L 5019 -447
L 5019 -128
L 3378 -128
L 3378 -447
L 2938 -447
L 2938 1747
z
M 3225 1931
L 5459 1931
Q 5416 1959 5325 2009
Q 4738 2344 4263 2781
Q 3906 2400 3225 1931
z
M 5019 1547
L 3378 1547
L 3378 263
L 5019 263
L 5019 1547
z
M 3672 4422
Q 3625 4331 3556 4184
Q 3825 3781 4225 3372
Q 4588 3809 4903 4422
L 3672 4422
z
" transform="scale(0.015625)"/>
<path id="IPAGothic-63a8" d="M 3244 4063
L 4244 4063
Q 4484 4581 4653 5228
L 5125 5100
Q 4913 4484 4691 4063
L 5906 4063
L 5906 3666
L 4647 3666
L 4647 2822
L 5747 2822
L 5747 2438
L 4647 2438
L 4647 1594
L 5747 1594
L 5747 1216
L 4647 1216
L 4647 319
L 6047 319
L 6047 -91
L 3244 -91
L 3244 -481
L 2816 -481
L 2816 3188
L 2791 3128
Q 2581 2744 2366 2463
L 2084 2797
Q 2813 3728 3166 5284
L 3616 5144
Q 3428 4494 3244 4063
z
M 3244 319
L 4231 319
L 4231 1216
L 3244 1216
L 3244 319
z
M 3244 1594
L 4231 1594
L 4231 2438
L 3244 2438
L 3244 1594
z
M 3244 2822
L 4231 2822
L 4231 3666
L 3244 3666
L 3244 2822
z
M 1184 4084
L 1184 5313
L 1613 5313
L 1613 4084
L 2328 4084
L 2328 3669
L 1613 3669
L 1613 2241
Q 1997 2341 2334 2453
L 2359 2069
Q 1809 1884 1631 1831
L 1613 1825
L 1613 44
Q 1613 -194 1522 -294
Q 1413 -403 1081 -403
Q 738 -403 519 -366
L 441 97
Q 741 38 978 38
Q 1184 38 1184 219
L 1184 1703
L 1144 1697
Q 738 1584 409 1509
L 275 1941
Q 722 2022 1138 2119
Q 1147 2122 1166 2125
Q 1175 2128 1184 2131
L 1184 3669
L 372 3669
L 372 4084
L 1184 4084
z
" transform="scale(0.015625)"/>
<path id="IPAGothic-79fb" d="M 4691 2419
L 5844 2419
L 6066 2188
Q 5503 1156 4759 513
Q 4078 -75 2975 -469
L 2681 -97
Q 3684 194 4384 728
Q 4094 1056 3731 1356
Q 3381 1053 2919 819
L 2669 1150
Q 3853 1772 4500 2878
L 4909 2772
Q 4772 2528 4691 2419
z
M 4409 2034
Q 4216 1803 4000 1588
Q 4375 1341 4703 1009
Q 5219 1488 5497 2034
L 4409 2034
z
M 1350 2328
Q 1009 1334 513 659
L 263 1081
Q 966 2022 1266 3128
L 366 3128
L 366 3531
L 1350 3531
L 1350 4400
Q 919 4322 575 4266
L 366 4644
Q 1506 4806 2381 5144
L 2700 4747
Q 2241 4600 1784 4491
L 1784 3531
L 2619 3531
L 2619 3128
L 1784 3128
L 1784 2688
Q 2303 2266 2722 1803
L 2444 1356
Q 2103 1841 1784 2181
L 1784 -447
L 1350 -447
L 1350 2328
z
M 4275 4800
L 5491 4800
L 5709 4609
Q 4759 2809 2872 2047
L 2603 2388
Q 3534 2722 4134 3244
Q 3869 3519 3450 3794
Q 3184 3569 2859 3359
L 2591 3666
Q 3578 4259 4056 5288
L 4478 5191
Q 4403 5034 4275 4800
z
M 4019 4416
Q 3856 4194 3700 4038
Q 4128 3759 4372 3553
L 4416 3513
Q 4884 3991 5119 4416
L 4019 4416
z
" transform="scale(0.015625)"/>
<path id="IPAGothic-904e" d="M 1703 741
Q 1975 363 2503 209
Q 2906 94 3931 94
Q 4897 94 6131 178
Q 6025 -59 5978 -300
Q 4931 -341 4384 -341
Q 2819 -341 2234 -128
Q 1763 44 1525 397
Q 1113 -81 653 -447
L 372 19
Q 900 341 1269 672
L 1269 2303
L 378 2303
L 378 2731
L 1703 2731
L 1703 741
z
M 5338 2778
L 2594 2778
L 2594 428
L 2178 428
L 2178 3138
L 2594 3138
L 2594 5025
L 5338 5025
L 5338 3138
L 5753 3138
L 5753 875
Q 5753 597 5638 513
Q 5547 441 5313 441
Q 5019 441 4713 478
L 4659 903
Q 4956 850 5184 850
Q 5338 850 5338 1016
L 5338 2778
z
M 4934 3138
L 4934 3784
L 4041 3784
L 4041 3138
L 4934 3138
z
M 3663 3138
L 3663 4116
L 4934 4116
L 4934 4666
L 3003 4666
L 3003 3138
L 3663 3138
z
M 4750 2350
L 4750 1113
L 3469 1113
L 3469 781
L 3091 781
L 3091 2350
L 4750 2350
z
M 3469 2019
L 3469 1453
L 4372 1453
L 4372 2019
L 3469 2019
z
M 1525 3775
Q 1053 4353 563 4738
L 878 5056
Q 1497 4566 1869 4122
L 1525 3775
z
" transform="scale(0.015625)"/>
<path id="IPAGothic-53bb" d="M 3009 2169
Q 3003 2150 2988 2131
Q 2634 1163 2144 344
L 2375 363
Q 3003 400 3963 497
L 4697 575
Q 4322 1025 3909 1419
L 4281 1650
Q 5041 956 5834 -34
L 5431 -347
Q 5347 -234 5200 -47
Q 5038 163 4991 222
Q 3384 -22 959 -213
L 800 269
Q 888 272 1153 288
Q 1428 303 1606 313
L 1656 403
Q 2147 1250 2491 2169
L 447 2169
L 447 2584
L 2931 2584
L 2931 3744
L 959 3744
L 959 4159
L 2931 4159
L 2931 5216
L 3419 5216
L 3419 4159
L 5438 4159
L 5438 3744
L 3419 3744
L 3419 2584
L 5950 2584
L 5950 2169
L 3009 2169
z
" transform="scale(0.015625)"/>
<path id="IPAGothic-9593" d="M 4450 2566
L 4450 353
L 2375 353
L 2375 -25
L 1953 -25
L 1953 2566
L 4450 2566
z
M 4028 2200
L 2375 2200
L 2375 1653
L 4028 1653
L 4028 2200
z
M 4028 1300
L 2375 1300
L 2375 719
L 4028 719
L 4028 1300
z
M 2913 5019
L 2913 3059
L 1056 3059
L 1056 -447
L 609 -447
L 609 5019
L 2913 5019
z
M 1056 4659
L 1056 4206
L 2497 4206
L 2497 4659
L 1056 4659
z
M 1056 3881
L 1056 3413
L 2497 3413
L 2497 3881
L 1056 3881
z
M 5788 5019
L 5788 91
Q 5788 -225 5641 -331
Q 5525 -409 5231 -409
Q 4800 -409 4481 -366
L 4419 97
Q 4853 38 5128 38
Q 5341 38 5341 244
L 5341 3059
L 3438 3059
L 3438 5019
L 5788 5019
z
M 3853 4659
L 3853 4206
L 5341 4206
L 5341 4659
L 3853 4659
z
M 3853 3881
L 3853 3413
L 5341 3413
L 5341 3881
L 3853 3881
z
" transform="scale(0.015625)"/>
</defs>
<use href="#IPAGothic-5a"/>
<use href="#IPAGothic-2d" transform="translate(50 0)"/>
<use href="#IPAGothic-30e1" transform="translate(100 0)"/>
<use href="#IPAGothic-30bf" transform="translate(200 0)"/>
<use href="#IPAGothic-30eb" transform="translate(300 0)"/>
<use href="#IPAGothic-30fb" transform="translate(400 0)"/>
<use href="#IPAGothic-30ad" transform="translate(500 0)"/>
<use href="#IPAGothic-30e3" transform="translate(600 0)"/>
<use href="#IPAGothic-30bf" transform="translate(700 0)"/>
<use href="#IPAGothic-30d4" transform="translate(800 0)"/>
<use href="#IPAGothic-30e9" transform="translate(900 0)"/>
<use href="#IPAGothic-30fc" transform="translate(1000 0)"/>
<use href="#IPAGothic-2f" transform="translate(1100 0)"/>
<use href="#IPAGothic-44" transform="translate(1150 0)"/>
<use href="#IPAGothic-50" transform="translate(1200 0)"/>
<use href="#IPAGothic-32" transform="translate(1250 0)"/>
<use href="#IPAGothic-2f" transform="translate(1300 0)"/>
<use href="#IPAGothic-4e" transform="translate(1350 0)"/>
<use href="#IPAGothic-20" transform="translate(1400 0)"/>
<use href="#IPAGothic-4fa1" transform="translate(1450 0)"/>
<use href="#IPAGothic-683c" transform="translate(1550 0)"/>
<use href="#IPAGothic-63a8" transform="translate(1650 0)"/>
<use href="#IPAGothic-79fb" transform="translate(1750 0)"/>
<use href="#IPAGothic-28" transform="translate(1850 0)"/>
<use href="#IPAGothic-904e" transform="translate(1900 0)"/>
<use href="#IPAGothic-53bb" transform="translate(2000 0)"/>
<use href="#IPAGothic-33" transform="translate(2100 0)"/>
<use href="#IPAGothic-30" transform="translate(2150 0)"/>
<use href="#IPAGothic-65e5" transform="translate(2200 0)"/>
<use href="#IPAGothic-9593" transform="translate(2300 0)"/>
<use href="#IPAGothic-29" transform="translate(2400 0)"/>
</g>
</g>
<g id="legend_1">
<g id="patch_7">
<path d="M 53.512 92.26585
L 115.482 92.26585
Q 117.482 92.26585 117.482 90.26585
L 117.482 33.7696
Q 117.482 31.7696 115.482 31.7696
L 53.512 31.7696
Q 51.512 31.7696 51.512 33.7696
L 51.512 90.26585
Q 51.512 92.26585 53.512 92.26585
z
" style="fill: #ffffff; opacity: 0.8; stroke: #cccccc; stroke-linejoin: miter"/>
</g>
<g id="line2d_47">
<path d="M 55.4400 40.3200 L 65.5200 40.3200 L 75.6000 40.3200" style="fill: none; stroke: #36cc6a; stroke-width: 1.5; stroke-linecap: square"/>
<g>
<use href="#m4534e8f373" x="65.8800" y="40.6800" style="fill: #36cc6a; stroke: #36cc6a"/>
</g>
</g>
<g id="text_25">
<g transform="translate(83.512 44.1621) scale(0.1 -0.1)">
<defs>
<path id="IPAGothic-5e73" d="M 3419 4428
L 3419 1941
L 6078 1941
L 6078 1513
L 3419 1513
L 3419 -447
L 2931 -447
L 2931 1513
L 319 1513
L 319 1941
L 2931 1941
L 2931 4428
L 638 4428
L 638 4856
L 5759 4856
L 5759 4428
L 3419 4428
z
M 1728 2278
Q 1488 3094 1081 3859
L 1541 4038
Q 1872 3422 2219 2472
L 1728 2278
z
M 4134 2425
Q 4506 3138 4813 4128
L 5303 3944
Q 4984 3006 4569 2228
L 4134 2425
z
" transform="scale(0.015625)"/>
<path id="IPAGothic-5747" d="M 1206 3794
L 1206 5147
L 1659 5147
L 1659 3794
L 2369 3794
L 2369 3372
L 1659 3372
L 1659 1325
Q 2081 1516 2481 1722
L 2566 1313
Q 1556 778 559 397
L 334 838
Q 803 975 1206 1138
L 1206 3372
L 413 3372
L 413 3794
L 1206 3794
z
M 3475 4244
L 5844 4244
Q 5834 1131 5619 184
Q 5494 -366 4838 -366
Q 4369 -366 3859 -306
L 3769 184
Q 4241 88 4731 88
Q 5059 88 5147 306
Q 5359 919 5369 3828
L 3316 3828
Q 3013 3119 2466 2472
L 2150 2828
Q 2944 3788 3259 5263
L 3719 5147
Q 3619 4663 3475 4244
z
M 2978 2847
L 4681 2847
L 4681 2431
L 2978 2431
L 2978 2847
z
M 2559 1044
Q 3747 1338 4838 1797
L 4891 1388
Q 3831 891 2766 588
L 2559 1044
z
" transform="scale(0.015625)"/>
</defs>
<use href="#IPAGothic-5e73"/>
<use href="#IPAGothic-5747" transform="translate(100 0)"/>
<use href="#IPAGothic-5024" transform="translate(200 0)"/>
</g>
</g>
<g id="line2d_48">
<path d="M 55.4400 54.7200 L 65.5200 54.7200 L 75.6000 54.7200" style="fill: none; stroke: #ffa500; stroke-width: 1.5; stroke-linecap: square"/>
<g>
<use href="#m3cc280db12" x="65.8800" y="55.0800" style="fill: #ffa500; stroke: #ffa500"/>
</g>
</g>
<g id="text_26">
<g transform="translate(83.512 58.5221) scale(0.1 -0.1)">
<defs>
<path id="IPAGothic-4e2d" d="M 2925 3950
L 2925 5209
L 3425 5209
L 3425 3950
L 5613 3950
L 5613 1125
L 5125 1125
L 5125 1594
L 3425 1594
L 3425 -447
L 2925 -447
L 2925 1594
L 1263 1594
L 1263 1094
L 775 1094
L 775 3950
L 2925 3950
z
M 1263 3534
L 1263 2009
L 2925 2009
L 2925 3534
L 1263 3534
z
M 5125 2009
L 5125 3534
L 3425 3534
L 3425 2009
L 5125 2009
z
" transform="scale(0.015625)"/>
<path id="IPAGothic-592e" d="M 3578 1947
Q 4238 694 5972 134
L 5634 -294
Q 3847 378 3253 1750
Q 2916 216 809 -403
L 506 16
Q 2547 475 2894 1947
L 353 1947
L 353 2363
L 1256 2363
L 1256 4178
L 2938 4178
L 2938 5216
L 3413 5216
L 3413 4178
L 5141 4178
L 5141 2363
L 6044 2363
L 6044 1947
L 3578 1947
z
M 2938 3763
L 1703 3763
L 1703 2363
L 2938 2363
L 2938 3763
z
M 3413 3763
L 3413 2363
L 4688 2363
L 4688 3763
L 3413 3763
z
" transform="scale(0.015625)"/>
</defs>
<use href="#IPAGothic-4e2d"/>
<use href="#IPAGothic-592e" transform="translate(100 0)"/>
<use href="#IPAGothic-5024" transform="translate(200 0)"/>
</g>
</g>
<g id="line2d_49">
<path d="M 55.4400 69.1200 L 65.5200 69.1200 L 75.6000 69.1200" style="fill: none; stroke: #ff4d4f; stroke-width: 1.5; stroke-linecap: square"/>
<g>
<use href="#m4feea0763a" x="65.8800" y="69.4800" style="fill: #ff4d4f; stroke: #ff4d4f"/>
</g>
</g>
<g id="text_27">
<g transform="translate(83.512 72.91585) scale(0.1 -0.1)">
<defs>
<path id="IPAGothic-6700" d="M 5106 5050
L 5106 3275
L 1288 3275
L 1288 5050
L 5106 5050
z
M 1741 4697
L 1741 4331
L 4659 4331
L 4659 4697
L 1741 4697
z
M 1741 4000
L 1741 3622
L 4659 3622
L 4659 4000
L 1741 4000
z
M 2925 2528
L 2925 -447
L 2503 -447
L 2503 231
Q 1875 97 525 -75
L 409 359
Q 491 363 609 372
Q 728 381 756 384
L 994 403
L 994 2528
L 384 2528
L 384 2900
L 6016 2900
L 6016 2528
L 2925 2528
z
M 2503 2528
L 1403 2528
L 1403 2088
L 2503 2088
L 2503 2528
z
M 2503 1763
L 1403 1763
L 1403 1309
L 2503 1309
L 2503 1763
z
M 2503 984
L 1403 984
L 1403 434
L 1763 472
Q 2159 500 2503 550
L 2503 984
z
M 4844 588
Q 5350 225 6047 -9
L 5753 -419
Q 5066 -128 4556 288
Q 4000 -241 3281 -534
L 3006 -163
Q 3738 84 4263 563
Q 3722 1141 3463 1803
L 3084 1803
L 3084 2169
L 5428 2169
L 5656 1963
Q 5328 1178 4881 638
L 4844 588
z
M 4538 850
Q 4884 1275 5119 1803
L 3872 1803
Q 4113 1275 4538 850
z
" transform="scale(0.015625)"/>
<path id="IPAGothic-9ad8" d="M 4481 1588
L 4481 366
L 2319 366
L 2319 0
L 1891 0
L 1891 1588
L 4481 1588
z
M 4053 1247
L 2319 1247
L 2319 706
L 4053 706
L 4053 1247
z
M 3419 4641
L 5916 4641
L 5916 4263
L 481 4263
L 481 4641
L 2938 4641
L 2938 5313
L 3419 5313
L 3419 4641
z
M 4884 3878
L 4884 2694
L 1513 2694
L 1513 3878
L 4884 3878
z
M 1959 3531
L 1959 3041
L 4438 3041
L 4438 3531
L 1959 3531
z
M 5684 2309
L 5684 103
Q 5684 -378 5091 -378
Q 4703 -378 4316 -350
L 4253 109
Q 4706 44 5006 44
Q 5231 44 5231 250
L 5231 1944
L 1166 1944
L 1166 -447
L 713 -447
L 713 2309
L 5684 2309
z
" transform="scale(0.015625)"/>
</defs>
<use href="#IPAGothic-6700"/>
<use href="#IPAGothic-9ad8" transform="translate(100 0)"/>
<use href="#IPAGothic-5024" transform="translate(200 0)"/>
</g>
</g>
<g id="line2d_50">
<path d="M 55.4400 84.2400 L 65.5200 84.2400 L 75.6000 84.2400" style="fill: none; stroke: #4d96ff; stroke-width: 1.5; stroke-linecap: square"/>
<g>
<use href="#mcde957ec9b" x="65.8800" y="84.6000" style="fill: #4d96ff; stroke: #4d96ff"/>
</g>
</g>
<g id="text_28">
<g transform="translate(83.512 87.41085) scale(0.1 -0.1)">
<defs>
<path id="IPAGothic-5b89" d="M 4728 2381
Q 4484 1484 3969 872
Q 5038 403 5778 31
L 5397 -353
Q 4466 163 3616 538
Q 2703 -194 838 -403
L 550 31
Q 2272 166 3150 738
Q 2625 963 1925 1216
Q 1863 1119 1663 831
L 1259 1050
Q 1684 1650 2088 2381
L 416 2381
L 416 2784
L 2284 2784
Q 2563 3388 2713 3828
L 3169 3706
Q 2972 3178 2791 2784
L 5984 2784
L 5984 2381
L 4728 2381
z
M 4244 2381
L 2600 2381
Q 2459 2097 2209 1659
L 2150 1563
Q 2750 1359 3366 1113
L 3525 1050
Q 4019 1572 4244 2381
z
M 3419 4428
L 5753 4428
L 5753 3163
L 5278 3163
L 5278 4025
L 1116 4025
L 1116 3163
L 641 3163
L 641 4428
L 2931 4428
L 2931 5313
L 3419 5313
L 3419 4428
z
" transform="scale(0.015625)"/>
</defs>
<use href="#IPAGothic-6700"/>
<use href="#IPAGothic-5b89" transform="translate(100 0)"/>
<use href="#IPAGothic-5024" transform="translate(200 0)"/>
</g>
</g>
</g>
</g>
</g>
<defs>
<clipPath id="p1adb4844d3">
<rect x="46.8000" y="26.6400" width="662.4000" height="331.9200"/>
</clipPath>
</defs>
</svg>

</body></html>
